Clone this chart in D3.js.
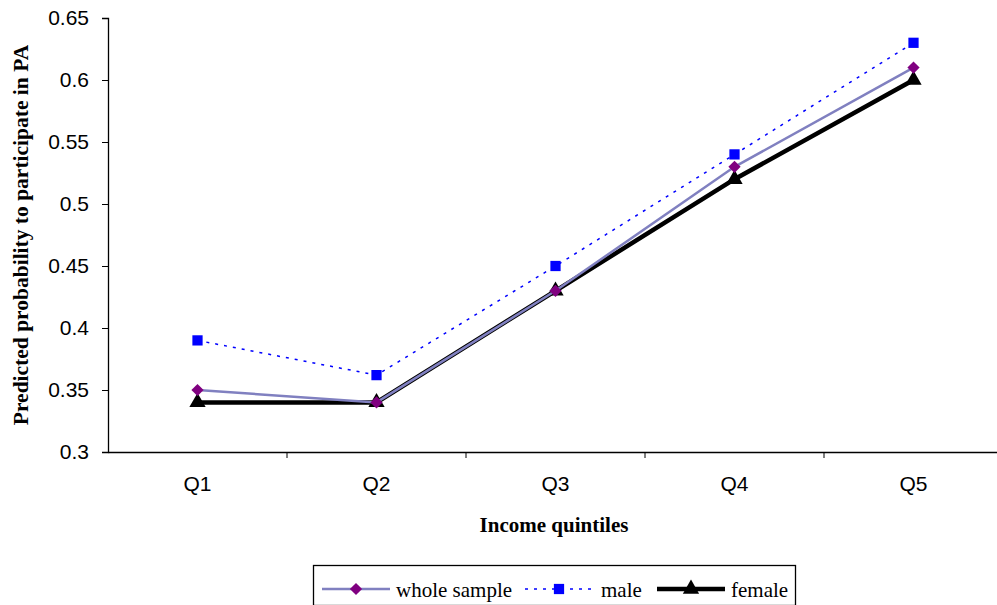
<!DOCTYPE html>
<html>
<head>
<meta charset="utf-8">
<script src="https://cdn.jsdelivr.net/npm/d3@7"></script>
<style>
  body { margin: 0; background: #fff; }
  svg { display: block; }
</style>
</head>
<body>
<svg id="chart" width="997" height="605"></svg>
<script>
// Income quintiles and predicted probabilities per group
const quintiles = ["Q1", "Q2", "Q3", "Q4", "Q5"];
const wholeSample = [0.35, 0.34, 0.43, 0.53, 0.61];
const male = [0.39, 0.362, 0.45, 0.54, 0.63];
const female = [0.34, 0.34, 0.43, 0.52, 0.60];
const yTicks = [0.3, 0.35, 0.4, 0.45, 0.5, 0.55, 0.6, 0.65];

const svg = d3.select("#chart");
const plotLeft = 108, plotRight = 1003, plotTop = 18, plotBottom = 452;

const x = d3.scaleBand().domain(quintiles).range([plotLeft, plotRight]);
const y = d3.scaleLinear().domain([0.3, 0.65]).range([plotBottom, plotTop]);
const cx = q => x(q) + x.bandwidth() / 2;

const sans = "Liberation Sans, Arial, sans-serif";
const serif = "Liberation Serif, Times New Roman, serif";

// Axes
const yAxis = svg.append("g")
  .attr("transform", `translate(${plotLeft},0)`)
  .call(d3.axisLeft(y).tickValues(yTicks).tickSize(6).tickPadding(13)
    .tickFormat(d => d3.format("~g")(d)));
yAxis.selectAll("text").attr("font-family", sans)
  .attr("font-size", 21).attr("fill", "#000");
yAxis.select(".domain").attr("stroke", "#000").attr("stroke-width", 1.3);
yAxis.selectAll(".tick line").attr("stroke", "#000");

const xAxis = svg.append("g")
  .attr("transform", `translate(0,${plotBottom})`)
  .call(d3.axisBottom(x).tickSize(0).tickPadding(24));
xAxis.selectAll("text").attr("font-family", sans)
  .attr("font-size", 21).attr("fill", "#000");
xAxis.select(".domain").attr("stroke", "#000").attr("stroke-width", 1.3);
// tick marks at category boundaries
xAxis.selectAll(".bound").data(quintiles.slice(1)).enter().append("line")
  .attr("x1", d => x(d)).attr("x2", d => x(d))
  .attr("y1", 0).attr("y2", 6).attr("stroke", "#000");

// Axis titles
svg.append("text")
  .attr("transform", `translate(28,${(plotTop + plotBottom) / 2}) rotate(-90)`)
  .attr("text-anchor", "middle")
  .attr("font-family", serif)
  .attr("font-weight", "bold").attr("font-size", 21.5)
  .text("Predicted probability to participate in PA");
svg.append("text")
  .attr("x", 554).attr("y", 532).attr("text-anchor", "middle")
  .attr("font-family", serif)
  .attr("font-weight", "bold").attr("font-size", 21)
  .text("Income quintiles");

const line = d3.line().x((d, i) => cx(quintiles[i])).y(d => y(d));

const diamond = d3.symbol().type(d3.symbolSquare).size(75);
const square = d3.symbol().type(d3.symbolSquare).size(105);
const triangle = d3.symbol().type(d3.symbolTriangle).size(115);

const series = [
  { name: "whole sample", values: wholeSample, stroke: "#8080c0", width: 2.5, dash: null, marker: diamond, fill: "#800080", rot: 45 },
  { name: "male", values: male, stroke: "#0000ff", width: 1.5, dash: "3,6", marker: square, fill: "#0000ff", rot: 0 },
  { name: "female", values: female, stroke: "#000", width: 4.5, dash: null, marker: triangle, fill: "#000", rot: 0 }
];

// draw order: female underneath, whole sample, then male on top
[series[2], series[0], series[1]].forEach(s => {
  svg.append("path").datum(s.values)
    .attr("d", line).attr("fill", "none")
    .attr("stroke", s.stroke).attr("stroke-width", s.width)
    .attr("stroke-dasharray", s.dash);
  svg.append("g").selectAll("path").data(s.values).enter().append("path")
    .attr("d", s.marker)
    .attr("transform", (d, i) => `translate(${cx(quintiles[i])},${y(d)}) rotate(${s.rot})`)
    .attr("fill", s.fill);
});

// Legend
const lg = svg.append("g");
lg.append("rect").attr("x", 313.5).attr("y", 565.5).attr("width", 482).attr("height", 40)
  .attr("fill", "#fff").attr("stroke", "#000").attr("stroke-width", 1.3);
const legendItems = [
  { s: series[0], x1: 322, x2: 390, tx: 396 },
  { s: series[1], x1: 525, x2: 593, tx: 601 },
  { s: series[2], x1: 657, x2: 725, tx: 731 }
];
legendItems.forEach(it => {
  const ly = 589;
  lg.append("line").attr("x1", it.x1).attr("x2", it.x2).attr("y1", ly).attr("y2", ly)
    .attr("stroke", it.s.stroke).attr("stroke-width", it.s.width)
    .attr("stroke-dasharray", it.s.dash);
  lg.append("path").attr("d", it.s.marker)
    .attr("transform", `translate(${(it.x1 + it.x2) / 2},${ly}) rotate(${it.s.rot})`)
    .attr("fill", it.s.fill);
  lg.append("text").attr("x", it.tx).attr("y", 597)
    .attr("font-family", serif)
    .attr("font-size", 21).text(it.s.name);
});
</script>
</body>
</html>
